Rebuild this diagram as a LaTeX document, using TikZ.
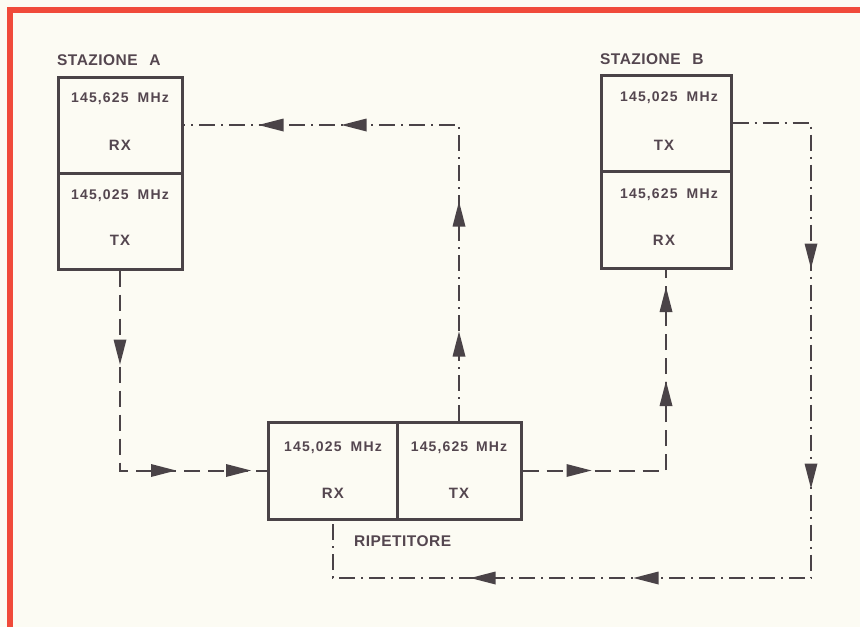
\documentclass[tikz,border=0pt]{standalone}
\usepackage{fontspec}
\setmainfont{Liberation Sans}
\usetikzlibrary{arrows.meta,decorations.markings}
\definecolor{bgc}{HTML}{FCFBF3}
\definecolor{redc}{HTML}{F04A3A}
\definecolor{inkc}{HTML}{4A4347}
\definecolor{txtc}{HTML}{54464F}
\newcommand{\freqfont}{\fontsize{14}{16}\selectfont\bfseries\addfontfeature{LetterSpace=8}}
\newcommand{\tipshape}{\fill[inkc] (0pt,0pt) -- (-25pt,6.5pt) -- (-25pt,-6.5pt) -- cycle;}
\begin{document}
\begin{tikzpicture}[x=1pt,y=-1pt,
  boxc/.style={draw=inkc,line width=3pt,rectangle,inner sep=0pt,minimum width=#1},
  freq/.style={text=txtc,font=\freqfont,inner sep=0pt},
  rxtx/.style={text=txtc,font=\fontsize{15}{17}\selectfont\bfseries\addfontfeature{LetterSpace=8},inner sep=0pt},
  stlabel/.style={text=txtc,font=\fontsize{15.5}{17}\selectfont\bfseries\addfontfeature{LetterSpace=3},inner sep=0pt,anchor=west},
  dashline/.style={draw=inkc,line width=2pt,dash pattern=on 16pt off 8pt},
  dotline/.style={draw=inkc,line width=2pt,dash pattern=on 16pt off 6pt on 2pt off 6pt},
]
\useasboundingbox (0,0) rectangle (860,627);
\fill[bgc] (0,0) rectangle (860,627);
\fill[redc] (7,7) rectangle (13,627);
\fill[redc] (7,7) rectangle (860,13);

% Stazione A
\node[stlabel] (sa) at (57,60) {STAZIONE\hspace{0.45em} A};
\node[boxc=124pt,minimum height=96pt] (arx) at (120,125) {};
\node[boxc=124pt,minimum height=96pt] (atx) at (120,221) {};
\node[freq] (arxf) at (120,99) {145,625\hspace{0.3em} MHz};
\node[rxtx] (arxl) at (120,145) {RX};
\node[freq] (atxf) at (120,196) {145,025\hspace{0.3em} MHz};
\node[rxtx] (atxl) at (120,240) {TX};

% Stazione B
\node[stlabel] (sb) at (600,59) {STAZIONE\hspace{0.45em} B};
\node[boxc=130pt,minimum height=96pt] (btx) at (666,123) {};
\node[boxc=130pt,minimum height=97pt] (brx) at (666,219.5) {};
\node[freq] (btxf) at (669,98) {145,025\hspace{0.3em} MHz};
\node[rxtx] (btxl) at (664,145) {TX};
\node[freq] (brxf) at (669,195) {145,625\hspace{0.3em} MHz};
\node[rxtx] (brxl) at (664,240) {RX};

% Ripetitore
\node[boxc=129pt,minimum height=97pt] (rrx) at (332.5,470.5) {};
\node[boxc=124pt,minimum height=97pt] (rtx) at (459,470.5) {};
\node[freq] (rrxf) at (333,448) {145,025\hspace{0.3em} MHz};
\node[rxtx] (rrxl) at (333,493) {RX};
\node[freq] (rtxf) at (459,448) {145,625\hspace{0.2em} MHz};
\node[rxtx] (rtxl) at (459,493) {TX};
\node[stlabel] (rl) at (354,541) {RIPETITORE};
\coordinate (c4) at (811,578);

% Connectors
\path[dashline,
  postaction={decorate,decoration={markings,
    mark=at position 94pt with {\tipshape},
    mark=at position 256pt with {\tipshape},
    mark=at position 331pt with {\tipshape}}}]
  (atx.south) |- (rrx.west);

\path[dotline,
  postaction={decorate,decoration={markings,
    mark=at position 89pt with {\tipshape},
    mark=at position 219pt with {\tipshape},
    mark=at position 413pt with {\tipshape},
    mark=at position 496pt with {\tipshape}}}]
  (rtx.north) |- (arx.east);

\path[dashline,
  postaction={decorate,decoration={markings,
    mark=at position 69pt with {\tipshape},
    mark=at position 233pt with {\tipshape},
    mark=at position 327pt with {\tipshape}}}]
  (rtx.east) -| (brx.south);

\path[dotline,
  postaction={decorate,decoration={markings,
    mark=at position 224pt with {\tipshape},
    mark=at position 444pt with {\tipshape},
    mark=at position 711pt with {\tipshape},
    mark=at position 874pt with {\tipshape}}}]
  (btx.east) -| (c4) -| (rrx.south);
\end{tikzpicture}
\end{document}
